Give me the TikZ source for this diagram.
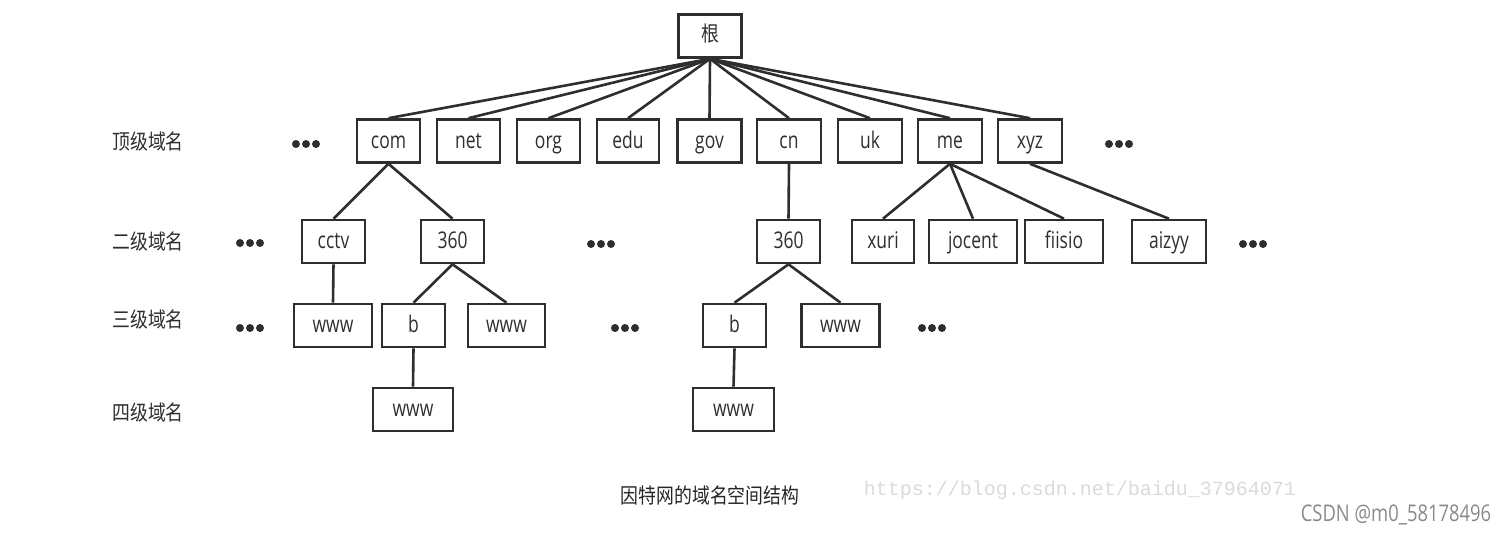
\documentclass[tikz,border=0pt]{standalone}
\usepackage{fontspec}
\newfontfamily\boxfont[FakeStretch=0.76]{Open Sans}
\newfontfamily\cjk[FakeStretch=0.85]{Noto Sans CJK SC}
\newfontfamily\wmfont{Liberation Mono}
\newfontfamily\csdnfont[FakeStretch=0.8]{Open Sans}
\definecolor{ink}{HTML}{2E2E2E}
\definecolor{wm}{HTML}{DADADA}
\definecolor{csdn}{HTML}{8A8A8A}
\tikzset{
  box/.style={draw=ink, line width=2.6pt, inner sep=0pt, minimum height=43pt,
    text height=19pt, text depth=5pt,
    font=\boxfont\fontsize{23}{23}\selectfont, text=ink},
  edge/.style={draw=ink, line width=2.6pt},
  lvl/.style={font=\cjk\fontsize{21}{21}\selectfont, text=ink, inner sep=0pt},
  dotrow/.style={inner sep=0pt, minimum width=32pt, minimum height=10pt,
    path picture={\fill[ink] (path picture bounding box.center) circle (4pt);
      \fill[ink] ([xshift=-10pt]path picture bounding box.center) circle (4pt);
      \fill[ink] ([xshift=10pt]path picture bounding box.center) circle (4pt);}}
}
\begin{document}
\begin{tikzpicture}[x=1pt,y=-1pt]
\useasboundingbox (0,0) rectangle (1510,535);
% root
\node[box, minimum width=63pt, text height=17pt, font=\cjk\fontsize{21}{21}\selectfont] (root) at (710,36) {根};
% top level
\node[box, minimum width=63pt] (com) at (388.5,141) {com};
\node[box, minimum width=63pt] (net) at (468.5,141) {net};
\node[box, minimum width=63pt] (org) at (548.5,141) {org};
\node[box, minimum width=62pt] (edu) at (628,141) {edu};
\node[box, minimum width=64pt] (gov) at (709.5,141) {gov};
\node[box, minimum width=64pt] (cn) at (789,141) {cn};
\node[box, minimum width=64pt] (uk) at (870,141) {uk};
\node[box, minimum width=64pt] (me) at (950,141) {me};
\node[box, minimum width=64pt] (xyz) at (1030,141) {xyz};
% second level
\node[box, minimum width=63pt] (cctv) at (333.5,241.5) {cctv};
\node[box, minimum width=63pt] (sa) at (452.5,241.5) {360};
\node[box, minimum width=63pt] (sb) at (788.5,241.5) {360};
\node[box, minimum width=62pt] (xuri) at (883,241.5) {xuri};
\node[box, minimum width=88pt] (jocent) at (973,241.5) {jocent};
\node[box, minimum width=78pt] (fiisio) at (1064,241.5) {fiisio};
\node[box, minimum width=74pt] (aizyy) at (1169,241.5) {aizyy};
% third level
\node[box, minimum width=78pt] (wa) at (333,325.5) {www};
\node[box, minimum width=63pt] (ba) at (413.5,325.5) {b};
\node[box, minimum width=77pt] (wb) at (506.5,325.5) {www};
\node[box, minimum width=63pt] (bb) at (734.5,325.5) {b};
\node[box, minimum width=78pt] (wc) at (840.5,325.5) {www};
% fourth level
\node[box, minimum width=80pt] (wd) at (413,409.5) {www};
\node[box, minimum width=81pt] (we) at (733.5,409.5) {www};
% edges
\foreach \c in {com,net,org,edu,gov,cn,uk,me,xyz}
  \draw[edge] (root.south) -- (\c.north);
\draw[edge] (com.south) -- (cctv.north);
\draw[edge] (com.south) -- (sa.north);
\draw[edge] (cn.south) -- (sb.north);
\draw[edge] (me.south) -- (xuri.north);
\draw[edge] (me.south) -- (jocent.north);
\draw[edge] (me.south) -- (fiisio.north);
\draw[edge] (xyz.south) -- (aizyy.north);
\draw[edge] (cctv.south) -- (wa.north);
\draw[edge] (sa.south) -- (ba.north);
\draw[edge] (sa.south) -- (wb.north);
\draw[edge] (sb.south) -- (bb.north);
\draw[edge] (sb.south) -- (wc.north);
\draw[edge] (ba.south) -- (wd.north);
\draw[edge] (bb.south) -- (we.north);
% dots
\node[dotrow] (d1) at (306,144) {};
\node[dotrow] (d2) at (1119,144) {};
\node[dotrow] (d3) at (250,243) {};
\node[dotrow] (d4) at (601,244) {};
\node[dotrow] (d5) at (1253,244) {};
\node[dotrow] (d6) at (250,328) {};
\node[dotrow] (d7) at (625,328) {};
\node[dotrow] (d8) at (932,328) {};
% level labels
\node[lvl] (l1) at (148,142) {顶级域名};
\node[lvl] (l2) at (148,242) {二级域名};
\node[lvl] (l3) at (148,320) {三级域名};
\node[lvl] (l4) at (148,413) {四级域名};
% caption and watermarks
\node[lvl, text=black!85] (cap) at (710,495) {因特网的域名空间结构};
\node[inner sep=0pt, text=wm, font=\wmfont\fontsize{20}{20}\selectfont] (url) at (1080,490) {https://blog.csdn.net/baidu\_37964071};
\node[inner sep=0pt, text=csdn, font=\csdnfont\fontsize{23}{23}\selectfont] (csdn) at (1396,515) {CSDN @m0\_58178496};
\end{tikzpicture}
\end{document}
